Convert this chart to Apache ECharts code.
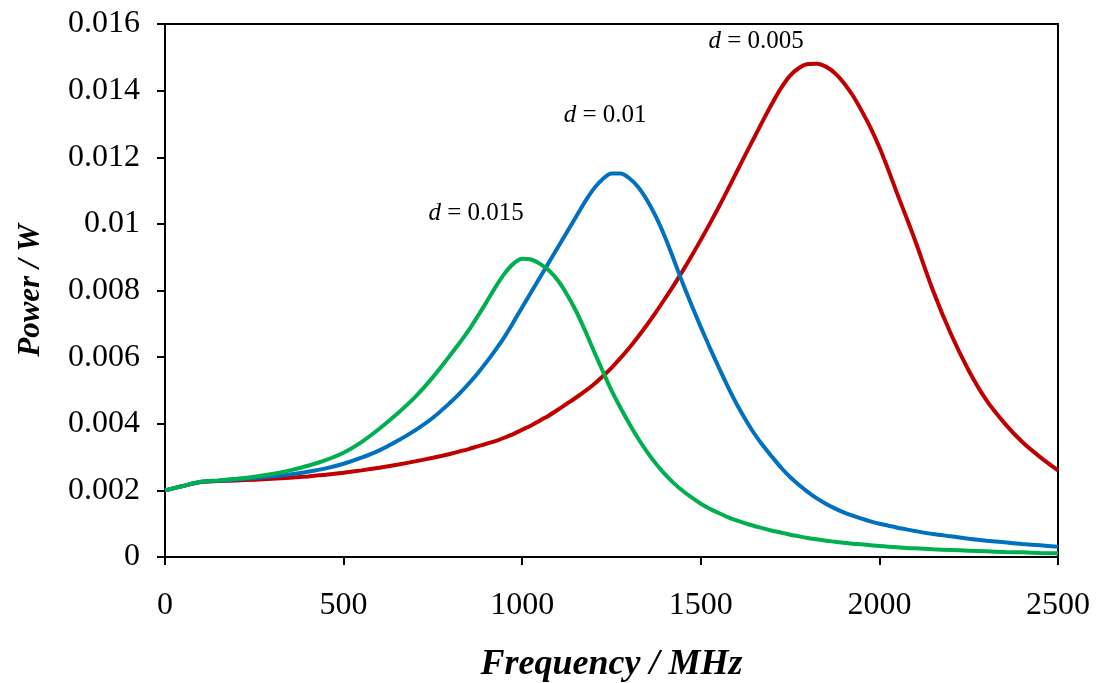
<!DOCTYPE html>
<html>
<head>
<meta charset="utf-8">
<script src="https://cdn.jsdelivr.net/npm/echarts@6/dist/echarts.min.js"></script>
<style>html,body{margin:0;padding:0;background:#fff}#c{width:1099px;height:683px}</style>
</head>
<body>
<div id="c"></div>
<script>
const freq = [
  0,50,100,150,200,250,300,350,400,450,500,550,600,650,700,750,800,
  825,850,875,900,925,950,975,1000,1025,1050,
  1075,1100,1125,1150,1175,1200,1225,1250,1275,1300,
  1325,1350,1375,1400,1425,1450,1475,1500,1525,1550,
  1575,1600,1625,1650,1675,1700,1725,1750,1775,1800,
  1825,1850,1875,1900,1925,1950,1975,2000,2025,2050,
  2075,2100,
  2150,2200,2250,2300,2350,2400,2450,2500];
const powerD005 = [
  0.0020,0.00213,0.00225,0.00228,0.0023,0.00232,0.00235,0.00238,0.00242,0.00247,0.00253,0.0026,0.00268,0.00277,0.00287,0.00298,0.0031,
  0.00317,0.00324,0.00332,0.0034,0.00348,0.00358,0.00369,0.00382,0.00395,0.0041,
  0.00425,0.00442,0.0046,0.00478,0.00497,0.00518,0.00542,0.00568,0.00597,0.00628,
  0.00662,0.00698,0.00736,0.00776,0.00817,0.0086,0.00905,0.00952,0.0100,0.0105,
  0.01102,0.01155,0.01208,0.0126,0.01312,0.01362,0.01408,0.01445,0.01468,0.0148,
  0.01481,0.01472,0.01453,0.01424,0.01386,0.0134,0.01289,0.0123,0.01162,0.0109,
  0.01021,0.0095,
  0.0080,0.0067,0.0056,0.0047,0.00402,0.00345,0.0030,0.0026];
const powerD010 = [
  0.0020,0.00213,0.00225,0.00229,0.00233,0.00237,0.00242,0.00248,0.00256,0.00266,0.0028,0.00298,0.0032,0.00348,0.0038,0.00418,0.00465,
  0.00491,0.0052,0.00551,0.00585,0.00621,0.0066,0.00704,0.0075,0.00795,0.0084,
  0.00885,0.0093,0.00975,0.0102,0.01065,0.01105,0.01134,0.01151,0.01151,0.01137,
  0.0111,0.0107,0.0102,0.0096,0.00891,0.0082,0.00754,0.0069,0.00629,0.0057,
  0.00513,0.0046,0.00413,0.0037,0.00333,0.0030,0.00268,0.0024,0.00216,0.00195,
  0.00176,0.0016,0.00146,0.00134,0.00124,0.00115,0.00107,0.001,0.00094,0.00088,
  0.00083,0.00078,
  0.00069,0.00062,0.00055,0.00049,0.00044,0.00039,0.00035,0.00031];
const powerD015 = [
  0.0020,0.00213,0.00226,0.0023,0.00235,0.00241,0.00249,0.0026,0.00274,0.00291,0.00313,0.00345,0.00385,0.0043,0.0048,0.0054,0.00608,
  0.00643,0.0068,0.00722,0.00765,0.0081,0.0085,0.0088,0.00895,0.00893,0.0088,
  0.0086,0.0083,0.00789,0.0074,0.00682,0.0062,0.00559,0.0050,0.00448,0.0040,
  0.00355,0.00315,0.00279,0.00248,0.00221,0.00198,0.00178,0.0016,0.00145,0.00132,
  0.0012,0.0011,0.00101,0.00093,0.00086,0.00079,0.00073,0.00067,0.00062,0.00057,
  0.00053,0.00049,0.00046,0.00043,0.0004,0.00038,0.00035,0.00033,0.00031,0.00029,
  0.00027,0.00026,
  0.00023,0.00021,0.00019,0.00017,0.00015,0.00014,0.00012,0.00011];
const seriesNames = ['d = 0.005','d = 0.01','d = 0.015'];
const labelValues = ['0.005','0.01','0.015'];
const labelCoords = [[1655,0.01549],[1232,0.01327],[871,0.0103]];
const colors = ['#C00000','#0070C0','#00B050'];
const xTitle = 'Frequency / MHz';
const yTitle = 'Power / W';

const allY = [powerD005, powerD010, powerD015];
const chart = echarts.init(document.getElementById('c'));
const font = 'Liberation Serif';
chart.setOption({
  animation: false,
  grid: {left:165, top:24, right:41, bottom:126, show:true, borderColor:'#000', borderWidth:2, backgroundColor:'transparent', containLabel:false, outerBoundsMode:'none'},
  xAxis: {
    type:'value', min:0, max:2500, interval:500,
    name:xTitle, nameLocation:'middle', nameGap:90,
    nameTextStyle:{fontFamily:font, fontSize:36, fontWeight:'bold', fontStyle:'italic', color:'#000'},
    axisLine:{lineStyle:{color:'#000', width:2}},
    axisTick:{inside:false, length:8, lineStyle:{color:'#000', width:2}},
    axisLabel:{fontFamily:font, fontSize:32, color:'#000', margin:33, formatter: v => String(v)},
    splitLine:{show:false}
  },
  yAxis: {
    type:'value', min:0, max:0.016, interval:0.002,
    name:yTitle, nameLocation:'middle', nameGap:119, nameRotate:90,
    nameTextStyle:{fontFamily:font, fontSize:31, fontWeight:'bold', fontStyle:'italic', color:'#000'},
    axisLine:{lineStyle:{color:'#000', width:2}},
    axisTick:{inside:false, length:8, lineStyle:{color:'#000', width:2}},
    axisLabel:{fontFamily:font, fontSize:32, color:'#000', margin:25},
    splitLine:{show:false}
  },
  series: allY.map((ys, i) => ({
    name: seriesNames[i],
    type:'line',
    smooth:0.3,
    showSymbol:false,
    lineStyle:{color:colors[i], width:4},
    data: freq.map((f, j) => [f, ys[j]]),
    markPoint: {
      symbol:'circle', symbolSize:0,
      data:[{coord:labelCoords[i], value:labelValues[i]}],
      label:{
        show:true, position:'inside',
        formatter: '{i|d} = ' + labelValues[i],
        fontFamily:font, fontSize:25, color:'#000',
        rich:{i:{fontFamily:font, fontSize:25, fontStyle:'italic', color:'#000'}}
      }
    }
  }))
});
</script>
</body>
</html>
